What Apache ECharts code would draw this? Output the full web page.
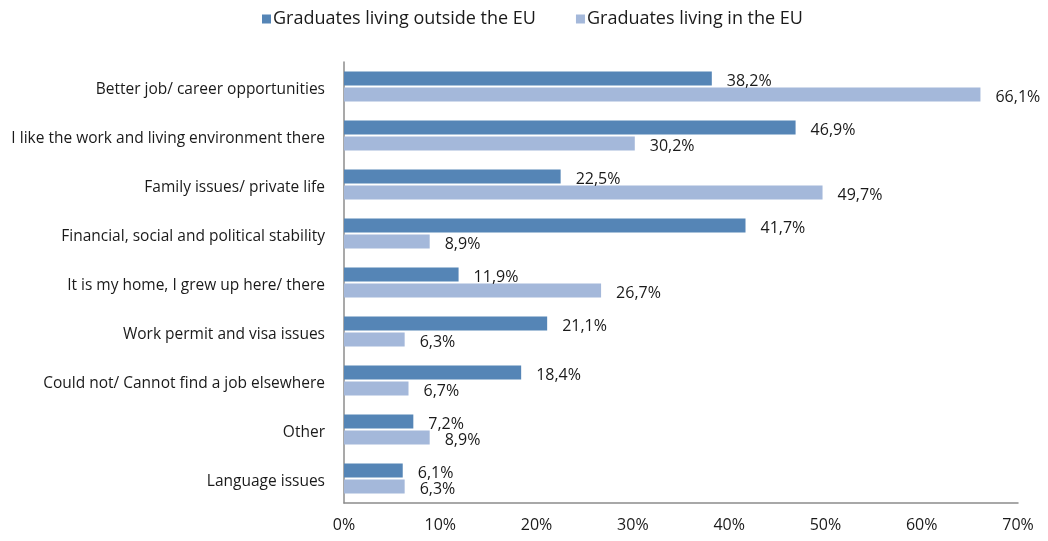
<!DOCTYPE html>
<html>
<head>
<meta charset="utf-8">
<script src="https://cdn.jsdelivr.net/npm/echarts@6/dist/echarts.min.js"></script>
<style>
  html, body { margin: 0; padding: 0; background: #fff; }
  #chart { width: 1048px; height: 541px; }
</style>
</head>
<body>
<div id="chart"></div>
<script>
// Reasons for choosing the place of residence, by graduate group (%)
const categories = [
  'Better job/ career opportunities',
  'I like the work and living environment there',
  'Family issues/ private life',
  'Financial, social and political stability',
  'It is my home, I grew up here/ there',
  'Work permit and visa issues',
  'Could not/ Cannot find a job elsewhere',
  'Other',
  'Language issues'
];
const outsideEU = [38.2, 46.9, 22.5, 41.7, 11.9, 21.1, 18.4, 7.2, 6.1];
const insideEU = [66.1, 30.2, 49.7, 8.9, 26.7, 6.3, 6.7, 8.9, 6.3];
const seriesNames = ['Graduates living outside the EU', 'Graduates living in the EU'];

const FONT = '"Open Sans", "DejaVu Sans", sans-serif';
const TEXT = '#1a1a1a';
const fmt = v => v.toFixed(1).replace('.', ',') + '%';

const chart = echarts.init(document.getElementById('chart'));
const labelCfg = {
  show: true,
  position: 'right',
  distance: 15,
  offset: [0, 3],
  color: TEXT,
  fontFamily: FONT,
  fontSize: 16,
  formatter: p => fmt(p.value)
};

chart.setOption({
  animation: false,
  legend: {
    top: 10,
    left: 262,
    padding: 0,
    itemWidth: 9,
    itemHeight: 9,
    itemGap: 40,
    icon: 'rect',
    textStyle: { fontFamily: FONT, fontSize: 18, color: TEXT, padding: [0, 0, 0, -3] },
    data: seriesNames
  },
  grid: { left: 344, right: 30, top: 62, bottom: 38, containLabel: false },
  xAxis: {
    type: 'value',
    min: 0,
    max: 70,
    interval: 10,
    axisLine: { show: true, lineStyle: { color: '#8c8c8c', width: 1.5 } },
    axisTick: { show: false },
    splitLine: { show: false },
    axisLabel: {
      formatter: v => v + '%',
      fontFamily: FONT,
      fontSize: 16,
      color: TEXT,
      margin: 14
    }
  },
  yAxis: {
    type: 'category',
    inverse: true,
    data: categories,
    axisLine: { show: true, lineStyle: { color: '#8c8c8c', width: 1.5 } },
    axisTick: { show: false },
    axisLabel: {
      color: TEXT,
      margin: 19,
      // a thin empty first line nudges the category name slightly below the band centre
      formatter: v => '{s|}\n{c|' + v + '}',
      rich: {
        s: { height: 6, lineHeight: 6, fontSize: 1 },
        c: { fontFamily: FONT, fontSize: 15.5, color: TEXT, lineHeight: 21 }
      }
    }
  },
  series: [
    {
      name: seriesNames[0],
      type: 'bar',
      data: outsideEU,
      barWidth: 14,
      barGap: '14%',
      itemStyle: { color: '#5585b6' },
      label: labelCfg
    },
    {
      name: seriesNames[1],
      type: 'bar',
      data: insideEU,
      barWidth: 14,
      itemStyle: { color: '#a4b8da' },
      label: labelCfg
    }
  ]
});
</script>
</body>
</html>
